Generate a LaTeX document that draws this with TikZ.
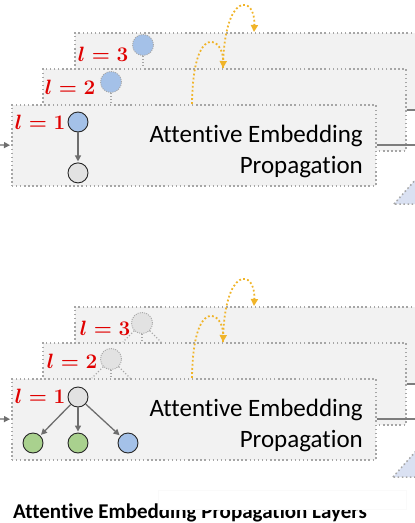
\documentclass[tikz,border=0pt]{standalone}
\usepackage{fontspec}
\setmainfont{Carlito}[Ligatures=NoCommon]
\usepackage{amsmath}
\usepackage{tikz}
\usetikzlibrary{arrows.meta,positioning,calc}
\definecolor{layFill}{HTML}{F2F2F2}
\definecolor{layEdge}{HTML}{A6A6A6}
\definecolor{lvlRed}{HTML}{E00000}
\definecolor{embBlueC}{HTML}{A4C1E8}
\definecolor{embGreenC}{HTML}{A9D18E}
\definecolor{embGrayC}{HTML}{E2E2E2}
\definecolor{edgeGray}{HTML}{6E6E6E}
\definecolor{hopGold}{HTML}{F0B429}
\definecolor{triBlue}{HTML}{DAE1F2}
\tikzset{
  layerBox/.style={
    rectangle,
    anchor=north west,
    draw=layEdge,
    fill=layFill,
    line width=1.5pt,
    dash pattern=on 1.5pt off 2.6pt,
    inner sep=0pt
  },
  lvlLabel/.style={
    text=lvlRed,
    font=\fontsize{21}{25}\selectfont,
    inner sep=0pt
  },
  embNode/.style={
    circle,
    draw=black!85,
    line width=0.9pt,
    minimum size=20pt,
    inner sep=0pt
  },
  embBlue/.style={embNode, fill=embBlueC},
  embGreen/.style={embNode, fill=embGreenC},
  embGray/.style={embNode, fill=embGrayC},
  ghostNode/.style={
    circle,
    draw=layEdge,
    line width=0.9pt,
    dash pattern=on 1pt off 1.2pt,
    minimum size=21pt,
    inner sep=0pt
  },
  ghostEdge/.style={
    draw=layEdge,
    line width=1.1pt,
    dash pattern=on 1.1pt off 2pt
  },
  propArrow/.style={
    -{Triangle[length=6pt,width=6pt]},
    line width=1.3pt,
    draw=edgeGray,
    shorten >=1pt
  },
  hopArrow/.style={
    -{Triangle[length=7pt,width=7pt]},
    line width=1.8pt,
    draw=hopGold,
    dash pattern=on 1.8pt off 2.3pt
  },
  outLine/.style={
    line width=2pt,
    draw=edgeGray!90
  },
  triShape/.style={
    draw=layEdge,
    fill=triBlue,
    line width=1.5pt,
    dash pattern=on 1.5pt off 2.6pt
  },
  propText/.style={
    anchor=east,
    align=right,
    inner sep=0pt,
    font=\fontsize{25}{31}\selectfont
  },
  titleText/.style={
    anchor=base west,
    inner sep=0pt,
    font=\bfseries\fontsize{21}{25}\selectfont
  }
}

\begin{document}
\begin{tikzpicture}[x=1pt, y=-1pt]
  \clip (0,0) rectangle (415,523);

  % ---- upper block: single-hop chain
  \node[layerBox, minimum width=370pt, minimum height=77pt] (topL3) at (74,32) {};
  \node[layerBox, minimum width=363pt, minimum height=82pt] (topL2) at (42,68) {};
  \draw[outLine] (topL2.east) -- ++(20,0);
  \node[layerBox, minimum width=364pt, minimum height=81pt] (topL1) at (11,104) {};
  \draw[outLine] (topL1.east) -- ++(45,0);
  \draw[triShape] (394,204) -- (424,170) -- (424,204) -- cycle;

  \coordinate (topIn) at (0,145);
  \draw[propArrow] (topIn) -- (topL1.west);

  \node[lvlLabel] (topLab3) at (103,54) {$\boldsymbol{l=3}$};
  \node[lvlLabel] (topLab2) at (70,87) {$\boldsymbol{l=2}$};
  \node[lvlLabel] (topLab1) at (40,122) {$\boldsymbol{l=1}$};

  \node[ghostNode, fill=embBlueC] (topU3) at (143,45) {};
  \draw[ghostEdge] (topU3) -- (topU3 |- topL2.north);
  \node[ghostNode, fill=embBlueC] (topU2) at (111,82) {};
  \draw[ghostEdge] (topU2) -- (topU2 |- topL1.north);

  \node[embBlue] (topU1) at (78,122) {};
  \node[embGray, below=30pt of topU1] (topI1) {};
  \draw[propArrow] (topU1) -- (topI1);

  \node[propText] (topTxt) at (363,151) {Attentive Embedding\\Propagation};

  \coordinate (topHop1) at (192,104);
  \coordinate (topHop2) at (223,68);
  \coordinate (topHop3) at (254,32);
  \draw[hopArrow] (topHop1) .. controls (193,20) and (224,38) .. (topHop2);
  \draw[hopArrow] (topHop2) .. controls (224,-10) and (256,-5) .. (topHop3);

  % ---- lower block: multi-hop tree
  \begin{scope}[yshift=-274pt]
    \node[layerBox, minimum width=370pt, minimum height=77pt] (botL3) at (74,32) {};
    \node[layerBox, minimum width=363pt, minimum height=82pt] (botL2) at (42,68) {};
    \draw[outLine] (botL2.east) -- ++(20,0);
    \node[layerBox, minimum width=364pt, minimum height=81pt] (botL1) at (11,104) {};
    \draw[outLine] (botL1.east) -- ++(45,0);
    \draw[triShape] (393,203) -- (424,168) -- (424,203) -- cycle;

    \coordinate (botIn) at (0,145);
    \draw[propArrow] (botIn) -- (botL1.west);

    \node[lvlLabel] (botLab3) at (105,54) {$\boldsymbol{l=3}$};
    \node[lvlLabel] (botLab2) at (72,87) {$\boldsymbol{l=2}$};
    \node[lvlLabel] (botLab1) at (40,122) {$\boldsymbol{l=1}$};

    \node[ghostNode, fill=embGrayC] (botU3) at (142,49) {};
    \foreach \dx in {-19,0,19} {
      \draw[ghostEdge] (botU3) -- ($(botU3 |- botL2.north)+(\dx,0)$);
    }
    \node[ghostNode, fill=embGrayC] (botU2) at (111,85) {};
    \foreach \dx in {-19,0,19} {
      \draw[ghostEdge] (botU2) -- ($(botU2 |- botL1.north)+(\dx,0)$);
    }

    \node[embGray] (botU1) at (78,123) {};
    \node[embGreen] (botI1) at (33,169) {};
    \node[embGreen] (botI2) at (78,169) {};
    \node[embBlue] (botI3) at (128,169) {};
    \foreach \n in {botI1,botI2,botI3} {
      \draw[propArrow] (botU1) -- (\n);
    }

    \node[propText] (botTxt) at (363,151) {Attentive Embedding\\Propagation};

    \coordinate (botHop1) at (192,104);
    \coordinate (botHop2) at (223,68);
    \coordinate (botHop3) at (254,32);
    \draw[hopArrow] (botHop1) .. controls (193,20) and (224,38) .. (botHop2);
    \draw[hopArrow] (botHop2) .. controls (224,-10) and (256,-5) .. (botHop3);
  \end{scope}

  \node[titleText] (title) at (13,518) {Attentive Embedding Propagation Layers};
  \draw[draw=black!2, fill=white] (158,490) rectangle (406,509);
\end{tikzpicture}
\end{document}
